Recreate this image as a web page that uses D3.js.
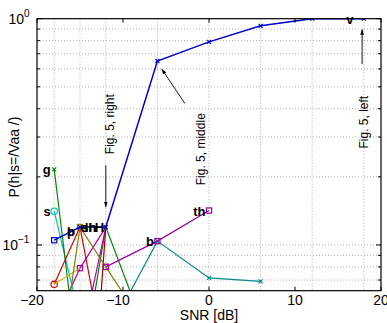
<!DOCTYPE html>
<html>
<head>
<meta charset="utf-8">
<script src="https://cdn.jsdelivr.net/npm/d3@7"></script>
<style>
  body { margin: 0; background: #fff; }
  svg { display: block; font-family: "Liberation Sans", Arial, sans-serif; }
</style>
</head>
<body>
<svg id="chart" width="387" height="323"></svg>
<script>
// SNR values where responses were measured
const snr = [-18, -15, -12, -6, 0, 6, 12, 18];
const xTicks = [-20, -10, 0, 10, 20];
const yMajor = [0.1, 1];
const yMinor = [0.07, 0.08, 0.09, 0.2, 0.3, 0.4, 0.5, 0.6, 0.7, 0.8, 0.9];

// P(h | s=/Vaa/) per heard sound h (null = not plotted)
const vVals = [0.105, 0.12, 0.12, 0.65, 0.79, 0.93, 1.0, 1.0];
const gVals = [0.216, 0.025, 0.12, 0.03, null, null, null, null];
const sVals = [0.141, 0.047, null, null, null, null, null, null];
const bVals = [null, null, 0.039, 0.104, 0.0715, 0.069, null, null];
const thVals = [null, null, 0.08, 0.104, 0.142, null, null, null];
const redVals = [0.067, 0.12, 0.03, null, null, null, null, null];
const darkRedVals = [null, 0.003, 0.12, null, null, null, null, null];
const oliveVals = [0.02, 0.12, 0.08, 0.036, null, null, null, null];
const yellowVals = [0.067, 0.079, null, null, null, null, null, null];
const magVals2 = [0.045, 0.079, 0.12, null, null, null, null, null];
const magVals3 = [null, 0.035, 0.12, null, null, null, null, null];

const series = [
  { vals: sVals, color: "#00bcbc", marker: "o", only: [0] },
  { vals: gVals, color: "#008800", marker: "x", only: [0] },
  { vals: magVals3, color: "#b000b0", marker: null },
  { vals: magVals2, color: "#b000b0", marker: "sq", only: [1] },
  { vals: darkRedVals, color: "#a00000", marker: null },
  { vals: redVals, color: "#dd0000", marker: "o", only: [0] },
  { vals: yellowVals, color: "#c0c000", marker: null },
  { vals: oliveVals, color: "#808000", marker: "sq" },
  { vals: bVals, color: "#008b8b", marker: "x" },
  { vals: thVals, color: "#a000a0", marker: "sq" },
  { vals: vVals, color: "#0000cc", marker: "x", first: "sq", width: 1.5 }
];

// text labels next to curves: [text, snr, value]
const labels = [
  ["v", 16.8, 1.0],
  ["th", -0.4, 0.142],
  ["b", -6.4, 0.104],
  ["g", -18.4, 0.216],
  ["s", -18.4, 0.141],
  ["p", -15.6, 0.115],
  ["b", -15.6, 0.115],
  ["dh", -13.1, 0.12],
  ["sh", -13.1, 0.12],
  ["H", -12.2, 0.12]
];

// annotations: text, text position, arrow from -> to
const notes = [
  { text: "Fig. 5, right", x: -11.05, y: 0.342, from: [-12, 0.225], to: [-12, 0.147] },
  { text: "Fig. 5, middle", x: -0.45, y: 0.265, from: [-2.8, 0.422], to: [-5.5, 0.60] },
  { text: "Fig. 5, left", x: 18.5, y: 0.349, from: [17.8, 0.63], to: [17.8, 0.898] }
];

const svg = d3.select("#chart");
const pl = 37, pr = 381, pt = 18.7, pb = 290.7;

const x = d3.scaleLinear().domain([-20, 20]).range([pl, pr]);
const y = d3.scaleLog().domain([0.0628, 1]).range([pb, pt]);

const defs = svg.append("defs");
defs.append("clipPath").attr("id", "plotclip")
  .append("rect").attr("x", pl).attr("y", pt)
  .attr("width", pr - pl).attr("height", pb - pt);

defs.append("marker")
  .attr("id", "arrow").attr("viewBox", "0 0 10 10")
  .attr("refX", 10).attr("refY", 5)
  .attr("markerWidth", 6).attr("markerHeight", 6)
  .attr("orient", "auto")
  .append("path").attr("d", "M0,1.5 L10,5 L0,8.5 Z").attr("fill", "#000");

// grid
const grid = svg.append("g").attr("stroke", "#999").attr("stroke-dasharray", "1,2").attr("stroke-width", 0.8);
snr.forEach(d => {
  grid.append("line").attr("x1", x(d)).attr("x2", x(d)).attr("y1", pt).attr("y2", pb);
});
yMinor.concat([0.1]).forEach(d => {
  grid.append("line").attr("x1", pl).attr("x2", pr).attr("y1", y(d)).attr("y2", y(d));
});

// curves
const plot = svg.append("g").attr("clip-path", "url(#plotclip)");
const line = d3.line()
  .defined(d => d[1] != null)
  .x(d => x(d[0]))
  .y(d => y(d[1]));

series.forEach(s => {
  const pts = snr.map((v, i) => [v, s.vals[i], i]);
  plot.append("path").datum(pts)
    .attr("d", line)
    .attr("fill", "none")
    .attr("stroke", s.color)
    .attr("stroke-width", s.width || 1.2);

  pts.filter(p => p[1] != null && p[1] >= 0.0628)
    .filter(p => !s.only || s.only.includes(p[2]))
    .forEach(p => {
      let m = s.marker;
      if (p[2] === 0 && s.first) m = s.first;
      const cx = x(p[0]), cy = y(p[1]);
      if (m === "o") {
        plot.append("circle").attr("cx", cx).attr("cy", cy).attr("r", 3.2)
          .attr("fill", "none").attr("stroke", s.color).attr("stroke-width", 1.2);
      } else if (m === "sq") {
        plot.append("rect").attr("x", cx - 2.6).attr("y", cy - 2.6).attr("width", 5.2).attr("height", 5.2)
          .attr("fill", "none").attr("stroke", s.color).attr("stroke-width", 1.2);
      } else if (m === "x") {
        plot.append("path")
          .attr("d", `M${cx - 2},${cy - 2}L${cx + 2},${cy + 2}M${cx - 2},${cy + 2}L${cx + 2},${cy - 2}`)
          .attr("stroke", s.color).attr("stroke-width", 1.2);
      }
    });
});

// curve labels
svg.append("g").selectAll("text").data(labels).join("text")
  .attr("x", d => x(d[1]))
  .attr("y", d => y(d[2]) + 5)
  .attr("text-anchor", "end")
  .attr("font-size", 13)
  .attr("font-weight", "bold")
  .text(d => d[0]);

// annotations
notes.forEach(n => {
  svg.append("text")
    .attr("transform", `translate(${x(n.x)},${y(n.y)}) rotate(-90)`)
    .attr("text-anchor", "middle")
    .attr("font-size", 12)
    .text(n.text);
  svg.append("line")
    .attr("x1", x(n.from[0])).attr("y1", y(n.from[1]))
    .attr("x2", x(n.to[0])).attr("y2", y(n.to[1]))
    .attr("stroke", "#000").attr("stroke-width", 0.9)
    .attr("marker-end", "url(#arrow)");
});

// frame and ticks
svg.append("rect").attr("x", pl).attr("y", pt)
  .attr("width", pr - pl).attr("height", pb - pt)
  .attr("fill", "none").attr("stroke", "#000").attr("stroke-width", 1.2);

const tk = svg.append("g").attr("stroke", "#000").attr("stroke-width", 1);
xTicks.forEach(t => {
  tk.append("line").attr("x1", x(t)).attr("x2", x(t)).attr("y1", pb).attr("y2", pb - 4);
  tk.append("line").attr("x1", x(t)).attr("x2", x(t)).attr("y1", pt).attr("y2", pt + 4);
});
yMajor.forEach(t => {
  tk.append("line").attr("x1", pl).attr("x2", pl + 5).attr("y1", y(t)).attr("y2", y(t));
  tk.append("line").attr("x1", pr).attr("x2", pr - 5).attr("y1", y(t)).attr("y2", y(t));
});
yMinor.forEach(t => {
  tk.append("line").attr("x1", pl).attr("x2", pl + 3).attr("y1", y(t)).attr("y2", y(t));
  tk.append("line").attr("x1", pr).attr("x2", pr - 3).attr("y1", y(t)).attr("y2", y(t));
});

// x tick labels
svg.append("g").selectAll("text").data(xTicks).join("text")
  .attr("x", d => x(d) - (d < 0 ? 5 : 0))
  .attr("y", 305)
  .attr("text-anchor", "middle")
  .attr("font-size", 14)
  .text(d => d < 0 ? "\u2212" + Math.abs(d) : d);

// y tick labels 10^k
yMajor.forEach(t => {
  const k = Math.round(Math.log10(t));
  const off = k < 0 ? 13 : 7;
  svg.append("text")
    .attr("x", pl - 6 - off)
    .attr("y", y(t) + 5)
    .attr("text-anchor", "end")
    .attr("font-size", 14)
    .text("10");
  svg.append("text")
    .attr("x", pl - 6 - off)
    .attr("y", y(t) - 2)
    .attr("font-size", 10)
    .text(k < 0 ? "\u2212" + Math.abs(k) : k);
});

// axis titles
svg.append("text")
  .attr("x", x(0)).attr("y", 320)
  .attr("text-anchor", "middle")
  .attr("font-size", 14)
  .text("SNR [dB]");

svg.append("text")
  .attr("transform", `translate(19,157) rotate(-90)`)
  .attr("text-anchor", "middle")
  .attr("font-size", 14)
  .text("P(h|s=/Vaa /)");
</script>
</body>
</html>
